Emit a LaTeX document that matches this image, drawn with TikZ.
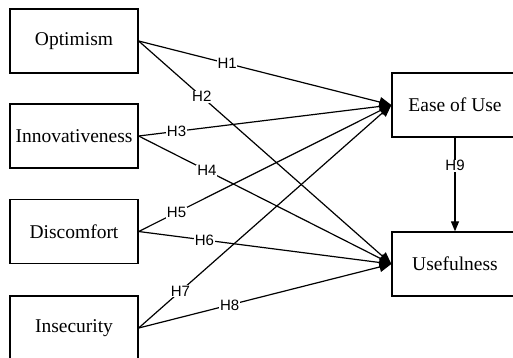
\documentclass[tikz,border=0pt]{standalone}
\usepackage{fontspec}
\setmainfont{Liberation Serif}
\newfontfamily\lblfont{Liberation Sans}
\usetikzlibrary{arrows.meta}
\begin{document}
\begin{tikzpicture}[x=1pt,y=-1pt,
  box/.style={draw, line width=1.3pt, minimum width=128pt, minimum height=64pt, inner sep=0pt, font=\fontsize{19.5}{21}\selectfont},
  rbox/.style={box, minimum width=126pt},
  link/.style={line width=1.2pt, -{Triangle[length=12pt,width=10pt]}},
  hlbl/.style={fill=white, inner sep=0.8pt, font=\lblfont\fontsize{15}{17}\selectfont}]
\useasboundingbox (0,0) rectangle (513,357);
\clip (0,0) rectangle (513,357);
\node[box] (opt) at (74,41) {Optimism};
\node[box] (inn) at (74,136) {Innovativeness};
\node[box] (dis) at (74,231.5) {Discomfort};
\node[box] (ins) at (74,328) {Insecurity};
\node[rbox] (ease) at (455,105) {Ease of Use};
\node[rbox] (use) at (455,264) {Usefulness};
\draw[link] (opt.east) -- node[hlbl, pos=0.35] {H1} (ease.west);
\draw[link] (opt.east) -- node[hlbl, pos=0.25] {H2} (use.west);
\draw[link] (inn.east) -- node[hlbl, pos=0.15] {H3} (ease.west);
\draw[link] (inn.east) -- node[hlbl, pos=0.27] {H4} (use.west);
\draw[link] (dis.east) -- node[hlbl, pos=0.15] {H5} (ease.west);
\draw[link] (dis.east) -- node[hlbl, pos=0.26] {H6} (use.west);
\draw[link] (ins.east) -- node[hlbl, pos=0.165] {H7} (ease.west);
\draw[link] (ins.east) -- node[hlbl, pos=0.36] {H8} (use.west);
\draw[line width=1.2pt, -{Triangle[length=10pt,width=8pt]}] (ease.south) -- node[hlbl, pos=0.3] {H9} (use.north);
\end{tikzpicture}
\end{document}
